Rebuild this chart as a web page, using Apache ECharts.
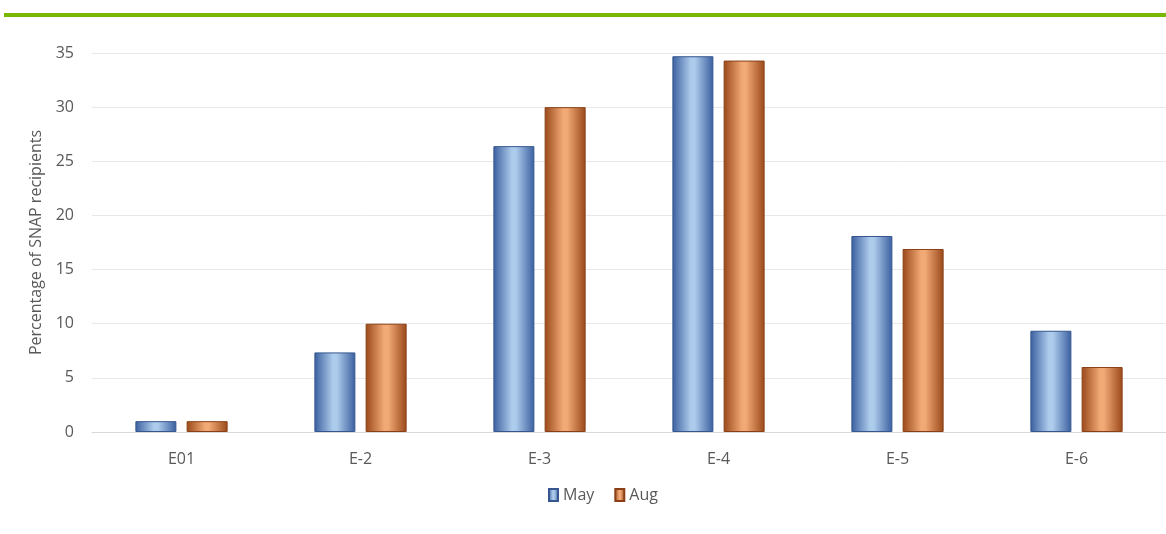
<!DOCTYPE html>
<html>
<head>
<meta charset="utf-8">
<script src="https://cdn.jsdelivr.net/npm/echarts@6/dist/echarts.min.js"></script>
<style>
  html, body { margin: 0; padding: 0; background: #ffffff; }
  #chart { width: 1166px; height: 534px; }
</style>
</head>
<body>
<div id="chart"></div>
<script>
// Share of SNAP recipients by group, May vs Aug
const categories = ['E01', 'E-2', 'E-3', 'E-4', 'E-5', 'E-6'];
const mayValues = [1.0, 7.35, 26.4, 34.7, 18.1, 9.35];
const augValues = [1.0, 10.0, 30.0, 34.3, 16.9, 6.0];
const yTicks = [0, 5, 10, 15, 20, 25, 30, 35];

const FONT = 'Open Sans';
const TEXT = '#595959';

// Cylinder-like shading across each bar
function shade(edge, mid) {
  return new echarts.graphic.LinearGradient(0, 0, 1, 0, [
    { offset: 0, color: edge },
    { offset: 0.45, color: mid },
    { offset: 0.55, color: mid },
    { offset: 1, color: edge }
  ]);
}
const blueFill = shade('#3a5f9f', '#adcbeb');
const orangeFill = shade('#9a4819', '#f1a976');

const chart = echarts.init(document.getElementById('chart'));
chart.setOption({
  backgroundColor: '#ffffff',
  animation: false,
  textStyle: { fontFamily: FONT },
  graphic: [{
    type: 'rect',
    shape: { x: 4, y: 13, width: 1162, height: 4 },
    style: { fill: '#78b800' }
  }],
  grid: { left: 92, top: 53, width: 1078, bottom: 102 },
  legend: {
    bottom: 26,
    left: 543,
    icon: 'rect',
    itemWidth: 9,
    itemHeight: 12,
    itemGap: 20,
    textStyle: { color: TEXT, fontSize: 16, fontFamily: FONT },
    data: ['May', 'Aug']
  },
  xAxis: {
    type: 'category',
    data: categories,
    axisTick: { show: false },
    axisLine: { lineStyle: { color: '#d9d9d9' } },
    axisLabel: { color: TEXT, fontSize: 16, margin: 19, fontFamily: FONT }
  },
  yAxis: {
    type: 'value',
    min: yTicks[0],
    max: yTicks[yTicks.length - 1],
    interval: 5,
    name: 'Percentage of SNAP recipients',
    nameLocation: 'middle',
    nameGap: 47,
    nameTextStyle: { color: TEXT, fontSize: 16, fontFamily: FONT },
    axisLabel: { color: TEXT, fontSize: 16, margin: 18, fontFamily: FONT },
    splitLine: { lineStyle: { color: '#e8e8e8' } },
    axisLine: { show: false },
    axisTick: { show: false }
  },
  series: [
    {
      name: 'May',
      type: 'bar',
      data: mayValues,
      barWidth: 41,
      barGap: '25%',
      itemStyle: { color: blueFill, borderColor: '#35568f', borderWidth: 1 }
    },
    {
      name: 'Aug',
      type: 'bar',
      data: augValues,
      barWidth: 41,
      itemStyle: { color: orangeFill, borderColor: '#8a4016', borderWidth: 1 }
    }
  ]
});
</script>
</body>
</html>
